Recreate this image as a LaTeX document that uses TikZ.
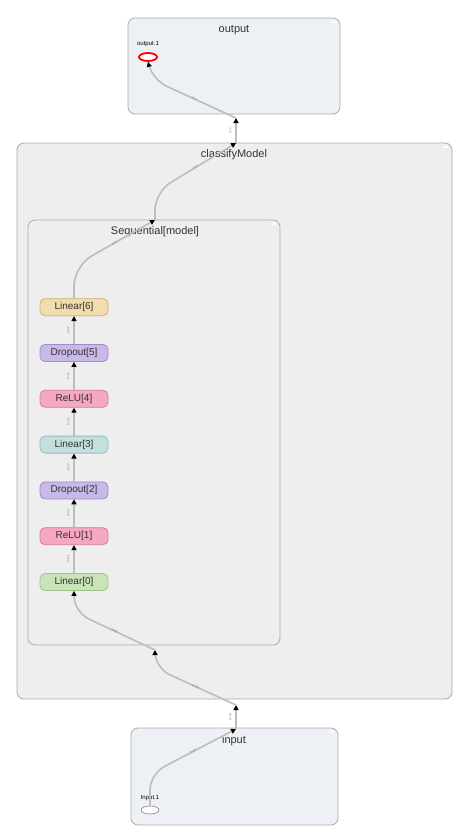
\documentclass[tikz,border=0pt]{standalone}
\usepackage{fontspec}
\setmainfont{Liberation Sans}
\usetikzlibrary{positioning,arrows.meta,shapes.geometric}
\definecolor{groupFill}{HTML}{EEEEEE}
\definecolor{ioFill}{HTML}{EDF0F5}
\definecolor{frameGray}{HTML}{ABABAB}
\definecolor{edgeGray}{HTML}{BDBDBD}
\definecolor{textGray}{HTML}{333333}
\definecolor{linearGreen}{HTML}{C9E4B9}
\definecolor{linearGreenLine}{HTML}{9CC48A}
\definecolor{reluPink}{HTML}{F6A8C2}
\definecolor{reluPinkLine}{HTML}{D27A98}
\definecolor{dropPurple}{HTML}{C9B9E8}
\definecolor{dropPurpleLine}{HTML}{9F8ACB}
\definecolor{linearTeal}{HTML}{C3E0DE}
\definecolor{linearTealLine}{HTML}{93BDB9}
\definecolor{linearTan}{HTML}{F2DDAD}
\definecolor{linearTanLine}{HTML}{CDAE72}

\begin{document}
\begin{tikzpicture}[x=1pt, y=-1pt,
        every node/.style={font=\fontsize{10}{12}\selectfont, align=center, text=textGray},
        layer/.style={draw, rounded corners=5pt, minimum width=68pt, minimum height=17pt, inner sep=0pt, line width=0.8pt},
        group/.style={draw=frameGray, fill=groupFill, rounded corners=7pt, line width=0.8pt, inner sep=0pt},
        title/.style={font=\fontsize{11}{13}\selectfont},
        port/.style={draw, ellipse, minimum width=18pt, minimum height=8pt, inner sep=0pt, fill=white},
        portname/.style={font=\fontsize{6}{6}\selectfont, text=black},
        edge/.style={draw=edgeGray, line width=1.6pt, -{Triangle[length=5pt, width=5pt, black]}},
        elabel/.style={font=\fontsize{3}{3}\selectfont, text=gray, sloped},
        collapse/.style={draw=white, line width=1.2pt}]
        \useasboundingbox (0,0) rectangle (475,836);

        % group boxes
        \node[group, fill=ioFill, minimum width=212pt, minimum height=96pt] (outBox) at (234,66) {};
        \node[group, minimum width=435pt, minimum height=556pt] (clsBox) at (234.5,421) {};
        \node[group, minimum width=252pt, minimum height=425pt] (seqBox) at (154,432.5) {};
        \node[group, fill=ioFill, minimum width=207pt, minimum height=97pt] (inBox) at (234.5,776.5) {};

        \draw[collapse] (331,22) -- (336,22);
        \draw[collapse] (443,147) -- (448,147);
        \draw[collapse] (271,224) -- (276,224);
        \draw[collapse] (329,732) -- (334,732);

        \node[title] (outTitle) at (234,30) {output};
        \node[title] (clsTitle) at (234,155) {classifyModel};
        \node[title] (seqTitle) at (155,232) {Sequential[model]};
        \node[title] (inTitle) at (234,741) {input};

        % ports
        \node[port, draw=red, line width=1.8pt] (out1) at (148,57) {};
        \node[portname, above=1.5pt of out1] (out1Name) {output.1};
        \node[port, draw=gray, line width=0.6pt] (in1) at (150,810) {};
        \node[portname, above=1.5pt of in1] (in1Name) {Input.1};

        % layers
        \node[layer, fill=linearGreen, draw=linearGreenLine] (L0) at (74,582) {Linear[0]};
        \node[layer, fill=reluPink, draw=reluPinkLine, above=28pt of L0] (L1) {ReLU[1]};
        \node[layer, fill=dropPurple, draw=dropPurpleLine, above=28pt of L1] (L2) {Dropout[2]};
        \node[layer, fill=linearTeal, draw=linearTealLine, above=28pt of L2] (L3) {Linear[3]};
        \node[layer, fill=reluPink, draw=reluPinkLine, above=28pt of L3] (L4) {ReLU[4]};
        \node[layer, fill=dropPurple, draw=dropPurpleLine, above=28pt of L4] (L5) {Dropout[5]};
        \node[layer, fill=linearTan, draw=linearTanLine, above=28pt of L5] (L6) {Linear[6]};

        \coordinate (outPort) at (236,118);
        \coordinate (clsTop) at (236,143);
        \coordinate (seqTop) at (155,220);
        \coordinate (seqBot) at (155,650);
        \coordinate (clsBot) at (236,705);
        \coordinate (inTop) at (236,729);

        % edges
        \draw[edge, rounded corners=16pt] (in1.north) -- (150,774) -- node[elabel] {8×30} (inTop);
        \draw[edge] (inTop) -- node[elabel, above=0.5pt] {8×30} (clsBot);
        \draw[edge, rounded corners=16pt] (clsBot) -- node[elabel] {8×30} (155,668) -- (seqBot);
        \draw[edge, rounded corners=16pt] (seqBot) -- node[elabel] {8×30} (74,612) -- (L0.south);
        \draw[edge] (L0.north) -- node[elabel, above=0.5pt] {8×64} (L1.south);
        \draw[edge] (L1.north) -- node[elabel, above=0.5pt] {8×64} (L2.south);
        \draw[edge] (L2.north) -- node[elabel, above=0.5pt] {8×64} (L3.south);
        \draw[edge] (L3.north) -- node[elabel, above=0.5pt] {8×32} (L4.south);
        \draw[edge] (L4.north) -- node[elabel, above=0.5pt] {8×32} (L5.south);
        \draw[edge] (L5.north) -- node[elabel, above=0.5pt] {8×32} (L6.south);
        \draw[edge, rounded corners=20pt] (L6.north) -- (74,266) -- node[elabel] {8×2} (seqTop);
        \draw[edge, rounded corners=18pt] (seqTop) -- (155,192) -- node[elabel] {8×2} (clsTop);
        \draw[edge] (clsTop) -- node[elabel, above=0.5pt] {8×2} (outPort);
        \draw[edge, rounded corners=15pt] (outPort) -- node[elabel] {8×2} (153,80) -- (out1.south);
    \end{tikzpicture}
\end{document}
